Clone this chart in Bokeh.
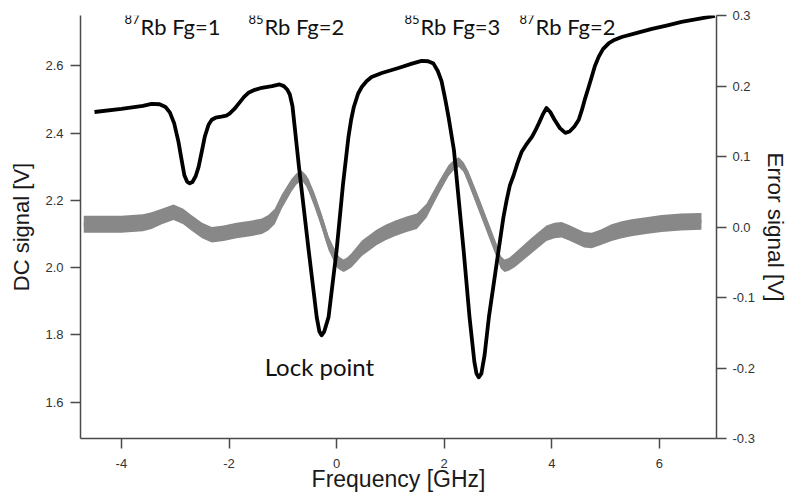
from bokeh.plotting import figure
from bokeh.models import Range1d, LinearAxis, FixedTicker, ColumnDataSource
from bokeh.embed import file_html
from bokeh.resources import INLINE
from bokeh.core.properties import value

# ---- data ----
dc_freq = [-4.50, -4.00, -3.60, -3.44, -3.29, -3.18, -3.10, -3.02, -2.94, -2.88,
           -2.83, -2.78, -2.73, -2.68, -2.62, -2.565, -2.50, -2.45, -2.38, -2.32,
           -2.25, -2.14, -2.05, -1.99, -1.90, -1.82, -1.72, -1.64, -1.52, -1.39,
           -1.20, -1.06, -0.98, -0.92, -0.87, -0.82, -0.78, -0.74, -0.70, -0.52,
           -0.37, -0.32, -0.28, -0.23, -0.15, 0.00, 0.12, 0.22, 0.27, 0.32,
           0.40, 0.47, 0.56, 0.65, 0.84, 1.15, 1.40, 1.58, 1.70, 1.80,
           1.88, 1.95, 2.02, 2.08, 2.18, 2.36, 2.47, 2.56, 2.60, 2.64,
           2.69, 2.75, 2.83, 3.01, 3.10, 3.16, 3.22, 3.29, 3.36, 3.44,
           3.52, 3.63, 3.70, 3.76, 3.83, 3.90, 3.97, 4.05, 4.15, 4.25,
           4.33, 4.42, 4.50, 4.56, 4.61, 4.68, 4.74, 4.80, 4.87, 4.95,
           5.06, 5.17, 5.30, 5.60, 5.86, 6.13, 6.41, 6.72, 7.03]
dc_signal = [2.463, 2.472, 2.481, 2.487, 2.486, 2.478, 2.462, 2.430, 2.375, 2.320,
             2.275, 2.256, 2.251, 2.255, 2.272, 2.300, 2.350, 2.390, 2.425, 2.440,
             2.446, 2.449, 2.452, 2.458, 2.472, 2.488, 2.508, 2.520, 2.529, 2.535,
             2.540, 2.545, 2.540, 2.530, 2.515, 2.480, 2.420, 2.360, 2.300, 2.052,
             1.853, 1.810, 1.799, 1.810, 1.853, 2.052, 2.250, 2.389, 2.440, 2.478,
             2.518, 2.538, 2.555, 2.567, 2.579, 2.594, 2.607, 2.615, 2.614, 2.607,
             2.585, 2.555, 2.500, 2.448, 2.350, 2.052, 1.853, 1.720, 1.685, 1.674,
             1.685, 1.740, 1.853, 2.052, 2.150, 2.201, 2.245, 2.275, 2.310, 2.345,
             2.365, 2.389, 2.410, 2.430, 2.455, 2.475, 2.463, 2.440, 2.415, 2.401,
             2.405, 2.420, 2.440, 2.470, 2.499, 2.535, 2.567, 2.600, 2.627, 2.650,
             2.668, 2.678, 2.686, 2.699, 2.710, 2.720, 2.731, 2.740, 2.749]

err_freq = [-4.70, -4.00, -3.60, -3.44, -3.25, -3.03, -2.85, -2.70, -2.50, -2.32,
            -2.10, -1.86, -1.60, -1.39, -1.27, -1.15, -1.02, -0.84, -0.75, -0.65,
            -0.57, -0.52, -0.41, -0.28, -0.15, 0.00, 0.06, 0.13, 0.20, 0.28,
            0.47, 0.74, 0.90, 1.08, 1.30, 1.49, 1.67, 1.90, 2.08, 2.18,
            2.27, 2.36, 2.45, 2.64, 2.83, 2.97, 3.05, 3.12, 3.20, 3.31,
            3.63, 3.90, 4.05, 4.18, 4.32, 4.46, 4.60, 4.74, 4.90, 5.11,
            5.30, 5.48, 5.75, 6.04, 6.40, 6.78]
err_signal = [0.004, 0.004, 0.006, 0.009, 0.015, 0.021, 0.015, 0.006, -0.005, -0.011,
              -0.009, -0.005, -0.002, 0.001, 0.006, 0.015, 0.036, 0.059, 0.068, 0.073,
              0.066, 0.059, 0.038, 0.009, -0.023, -0.047, -0.052, -0.055, -0.052, -0.047,
              -0.030, -0.015, -0.008, -0.002, 0.004, 0.008, 0.023, 0.056, 0.080, 0.088,
              0.092, 0.085, 0.070, 0.033, -0.005, -0.033, -0.050, -0.055, -0.053, -0.047,
              -0.026, -0.009, -0.005, -0.004, -0.008, -0.013, -0.018, -0.019, -0.015, -0.008,
              -0.004, -0.001, 0.002, 0.005, 0.007, 0.008]
err_noise = [0.012, 0.012, 0.012, 0.012, 0.011, 0.011, 0.011, 0.011, 0.011, 0.011,
             0.011, 0.011, 0.011, 0.011, 0.011, 0.011, 0.010, 0.009, 0.008, 0.007,
             0.008, 0.009, 0.010, 0.010, 0.010, 0.010, 0.009, 0.009, 0.009, 0.010,
             0.011, 0.011, 0.011, 0.011, 0.011, 0.011, 0.010, 0.009, 0.008, 0.007,
             0.007, 0.007, 0.009, 0.010, 0.010, 0.010, 0.009, 0.009, 0.009, 0.010,
             0.011, 0.011, 0.011, 0.011, 0.011, 0.011, 0.011, 0.011, 0.011, 0.012,
             0.012, 0.012, 0.012, 0.012, 0.012, 0.012]

x_ticks = [-4, -2, 0, 2, 4, 6]
x_tick_labels = ["-4", "-2", "0", "2", "4", "6"]
dc_ticks = [1.6, 1.8, 2.0, 2.2, 2.4, 2.6]
dc_tick_labels = ["1.6", "1.8", "2.0", "2.2", "2.4", "2.6"]
err_ticks = [-0.3, -0.2, -0.1, 0.0, 0.1, 0.2, 0.3]
err_tick_labels = ["-0.3", "-0.2", "-0.1", "0.0", "0.1", "0.2", "0.3"]

peak_iso = ["87", "85", "85", "87"]
peak_names = ["Rb Fg=1", "Rb Fg=2", "Rb Fg=3", "Rb Fg=2"]
peak_label_freq = [-3.94, -1.64, 1.26, 3.40]
lock_text = ["Lock point"]
lock_freq = [-0.32]
lock_dc = [1.705]

# ---- figure ----
p = figure(width=792, height=495, output_backend="svg", toolbar_location=None,
           x_range=Range1d(-4.76, 7.06), y_range=Range1d(1.492, 2.750),
           min_border_left=80, min_border_right=76, min_border_top=15,
           min_border_bottom=57, outline_line_color=None)
p.extra_y_ranges = {"err": Range1d(-0.3, 0.3)}
p.grid.visible = False
p.background_fill_color = "white"
p.border_fill_color = "white"

AX = "#4a4a4a"
TICK_FONT = "Liberation Sans"

def style(ax, ticks, labels):
    ax.ticker = FixedTicker(ticks=ticks)
    ax.major_label_overrides = {t: l for t, l in zip(ticks, labels)}
    ax.minor_tick_line_color = None
    ax.major_tick_in = 0
    ax.major_tick_out = 10
    ax.major_tick_line_color = AX
    ax.major_tick_line_width = 1.5
    ax.axis_line_color = AX
    ax.axis_line_width = 1.5
    ax.major_label_text_font = TICK_FONT
    ax.major_label_text_font_size = "13px"
    ax.major_label_text_color = "#333333"
    ax.axis_label_text_font = TICK_FONT
    ax.axis_label_text_font_style = "normal"
    ax.axis_label_text_color = "#1a1a1a"

xa = p.xaxis[0]
style(xa, x_ticks, x_tick_labels)
xa.axis_label = "Frequency [GHz]"
xa.axis_label_text_font_size = "23px"
xa.major_label_standoff = 10
xa.axis_label_standoff = -5

ya = p.yaxis[0]
style(ya, dc_ticks, dc_tick_labels)
ya.axis_label = "DC signal [V]"
ya.axis_label_text_font_size = "22px"
ya.major_label_standoff = 7
ya.axis_label_standoff = 8

ra = LinearAxis(y_range_name="err")
style(ra, err_ticks, err_tick_labels)
ra.axis_label = "Error signal [V]"
ra.axis_label_text_font_size = "22.5px"
ra.major_label_standoff = 6
ra.axis_label_standoff = 5
p.add_layout(ra, "right")

# ---- error signal (gray noisy band) ----
err_src = ColumnDataSource(dict(
    x=err_freq,
    lo=[c - n for c, n in zip(err_signal, err_noise)],
    hi=[c + n for c, n in zip(err_signal, err_noise)],
    y=err_signal))
p.varea(x="x", y1="lo", y2="hi", source=err_src, fill_color="#888888",
        y_range_name="err")
p.line(x="x", y="y", source=err_src, line_color="#888888", line_width=4,
       line_join="round", y_range_name="err")

# ---- DC signal (black) ----
p.line(dc_freq, dc_signal, line_color="black", line_width=3.8, line_join="round")

# ---- annotations ----
lab_font = value("Lato")
top_y = [2.716] * len(peak_names)
p.text(x=peak_label_freq, y=top_y, text=peak_names, x_offset=16,
       text_font=lab_font, text_font_size="22px", text_color="#111111",
       text_align="left", text_baseline="alphabetic")
p.text(x=peak_label_freq, y=top_y, text=peak_iso, y_offset=-8,
       text_font=lab_font, text_font_size="13px", text_color="#111111",
       text_align="left", text_baseline="alphabetic")
p.text(x=lock_freq, y=lock_dc, text=lock_text,
       text_font=lab_font, text_font_size="24px", text_color="#111111",
       text_align="center", text_baseline="middle")

open("out.html", "w").write(file_html(p, INLINE))
